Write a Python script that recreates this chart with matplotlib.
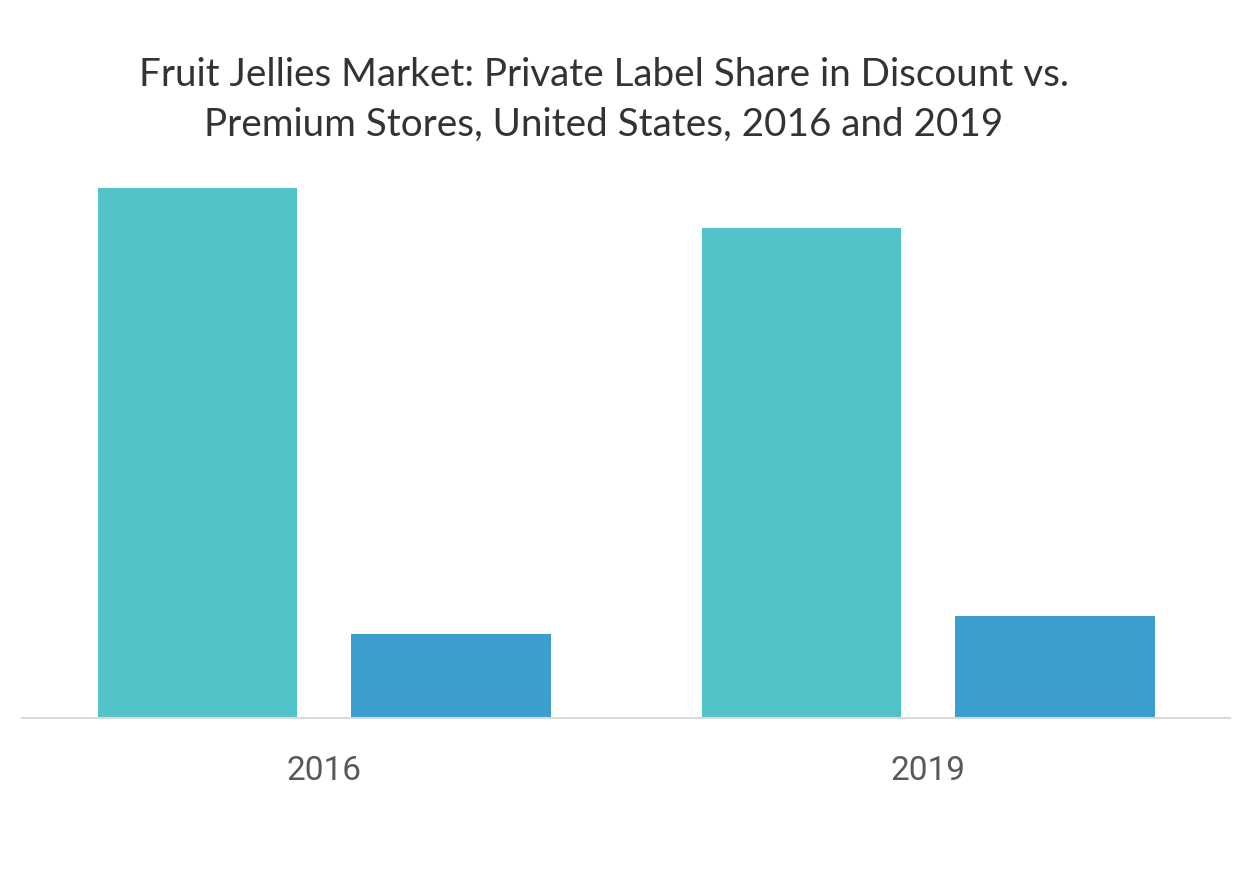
import matplotlib.pyplot as plt
import numpy as np

years = ['2016', '2019']
discount = [53.0, 49.0]
premium = [8.4, 10.2]

teal = '#52c3c9'
blue = '#3c9ecf'

fig = plt.figure(figsize=(12.53, 8.78), dpi=100)
ax = fig.add_axes([22/1253, 1-719/878, (1230-22)/1253, (719-151)/878])

x = np.arange(len(years))
w = 0.33
ax.bar(x - 0.21, discount, w, color=teal)
ax.bar(x + 0.21, premium, w, color=blue)

ax.set_xlim(-0.5, 1.5)
ax.set_ylim(0, 56.8)
ax.set_xticks(x)
ax.set_xticklabels(years, fontsize=24, color='#595959', family='Roboto')
ax.tick_params(axis='x', length=0, pad=26)
ax.set_yticks([])
for s in ['top', 'left', 'right']:
    ax.spines[s].set_visible(False)
ax.spines['bottom'].set_color('#d9d9d9')
ax.spines['bottom'].set_linewidth(1.5)

fig.text(604/1253, 1-100/878,
         'Fruit Jellies Market: Private Label Share in Discount vs.\nPremium Stores, United States, 2016 and 2019',
         ha='center', va='center', fontsize=27.8, color='#333333', family='Lato',
         linespacing=1.45)

fig.savefig('out.png', dpi=100)
